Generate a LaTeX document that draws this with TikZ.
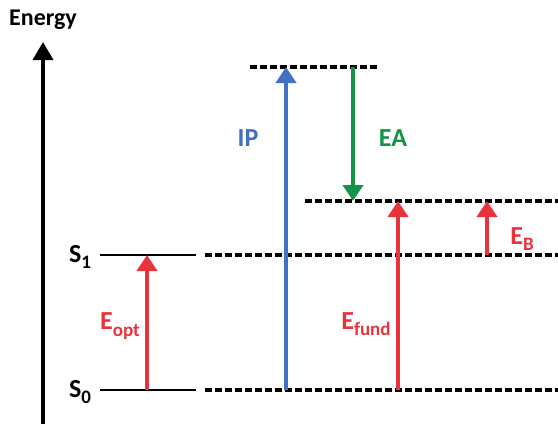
\documentclass[tikz,border=0pt]{standalone}
\usepackage{fontspec}
\setmainfont{Carlito}
\usetikzlibrary{arrows.meta}

\definecolor{gapred}{RGB}{232,50,60}
\definecolor{ipblue}{RGB}{66,112,196}
\definecolor{eagreen}{RGB}{20,148,70}
\newcommand{\lowsub}[1]{\raisebox{-0.5ex}{\fontsize{19}{20}\selectfont #1}}

\begin{document}
\begin{tikzpicture}[x=1pt, y=-1pt, font=\bfseries\fontsize{26}{28}\selectfont, level_line/.style={black, line width=1.8pt}, gap_line/.style={black, line width=3.2pt, dash pattern=on 7pt off 3pt}, trans_arrow/.style={line width=4.5pt, -{Triangle[width=20pt,length=16pt]}}, every node/.style={inner sep=0pt}]
				\useasboundingbox (0,0) rectangle (558,424);
				% energy axis
				\coordinate (axis_lo) at (43,424);
				\coordinate (axis_hi) at (43,42);
				\draw[line width=3.5pt, -{Triangle[width=20pt,length=18pt]}] (axis_lo) -- (axis_hi);
				\node[anchor=base, font=\bfseries\fontsize{24}{26}\selectfont](energy) at (43,25){Energy};
				% molecule levels
				\node(s1) at (80,257){S\lowsub{1}};
				\node(s0) at (80,392){S\lowsub{0}};
				\coordinate (s1_a) at (100,255);
				\coordinate (s1_b) at (196,255);
				\coordinate (s0_a) at (100,390);
				\coordinate (s0_b) at (196,390);
				\draw[level_line](s1_a) -- (s1_b);
				\draw[level_line](s0_a) -- (s0_b);
				% dashed levels
				\coordinate (d1_a) at (205,255);
				\coordinate (d1_b) at (558,255);
				\coordinate (d0_a) at (205,390);
				\coordinate (d0_b) at (558,390);
				\coordinate (ip_a) at (250,67);
				\coordinate (ip_b) at (378,67);
				\coordinate (ea_a) at (305,201);
				\coordinate (ea_b) at (558,201);
				\draw[gap_line](d1_a) -- (d1_b);
				\draw[gap_line](d0_a) -- (d0_b);
				\draw[gap_line](ip_a) -- (ip_b);
				\draw[gap_line](ea_a) -- (ea_b);
				% transitions
				\coordinate (opt_lo) at (147,390);
				\coordinate (opt_hi) at (147,255);
				\coordinate (ip_lo) at (286,390);
				\coordinate (ip_hi) at (286,67);
				\coordinate (ea_hi) at (353,67);
				\coordinate (ea_lo) at (353,201);
				\coordinate (fund_lo) at (398,390);
				\coordinate (fund_hi) at (398,201);
				\coordinate (b_lo) at (487,255);
				\coordinate (b_hi) at (487,201);
				\draw[trans_arrow, gapred](opt_lo) -- (opt_hi);
				\draw[trans_arrow, ipblue](ip_lo) -- (ip_hi);
				\draw[trans_arrow, eagreen](ea_hi) -- (ea_lo);
				\draw[trans_arrow, gapred](fund_lo) -- (fund_hi);
				\draw[trans_arrow, gapred](b_lo) -- (b_hi);
				\node[gapred](e_opt) at (120,326){E\lowsub{opt}};
				\node[ipblue](ip) at (248,138){IP};
				\node[eagreen](ea) at (393,138){EA};
				\node[gapred](e_fund) at (366,324){E\lowsub{fund}};
				\node[gapred](e_b) at (522,239){E\lowsub{B}};
			\end{tikzpicture}
\end{document}
